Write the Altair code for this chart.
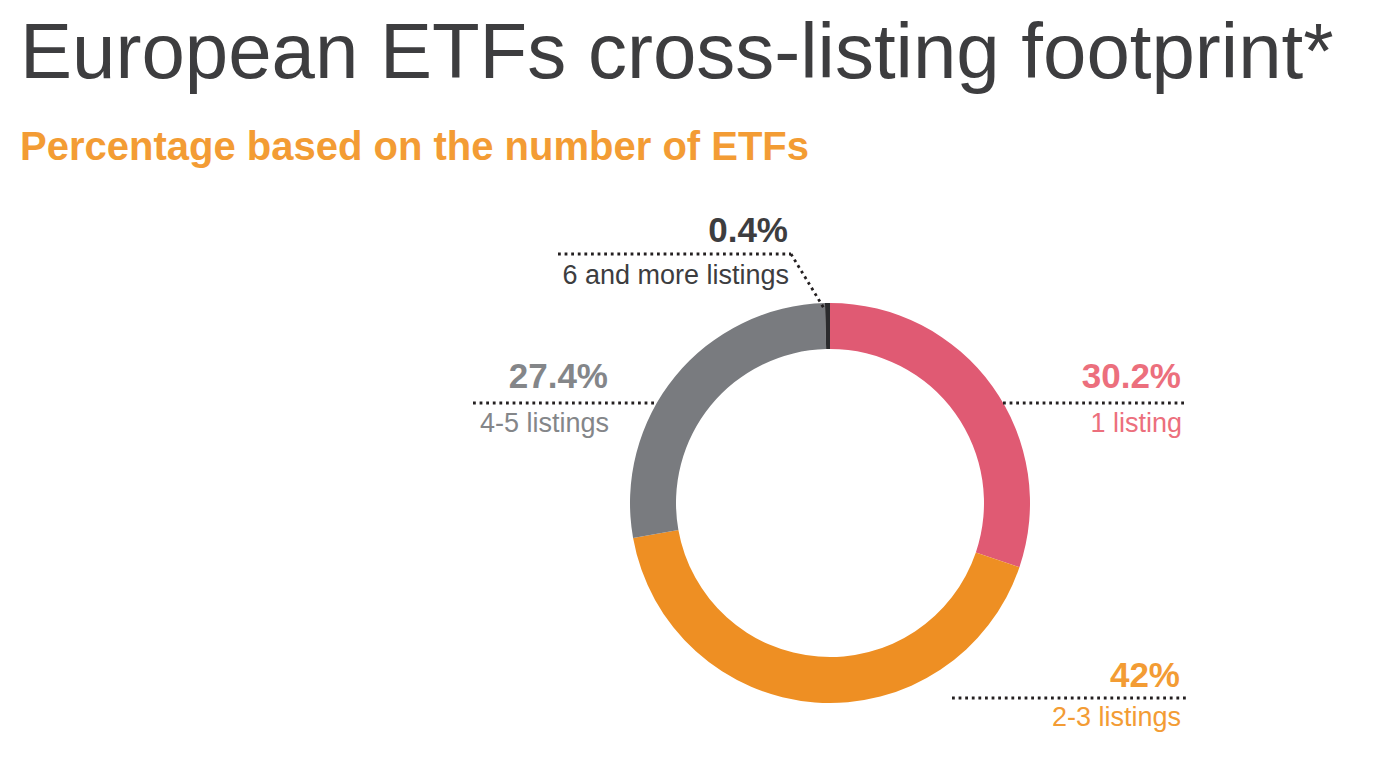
import altair as alt
import pandas as pd

categories = ["1 listing", "2-3 listings", "4-5 listings", "6 and more listings"]
shares = [30.2, 42.0, 27.4, 0.4]
pct_labels = ["30.2%", "42%", "27.4%", "0.4%"]
slice_colors = ["#e05a73", "#ee8f23", "#797b7f", "#2b2b2d"]
label_colors = ["#ec6f7d", "#f39c34", "#848689", "#3d3d3f"]

df = pd.DataFrame({"cat": categories, "share": shares, "pct": pct_labels,
                   "order": list(range(len(categories)))})

W, H = 1359, 753
CX, CY = 822, 495
R_OUT, R_IN = 200, 154
FONT = "Liberation Sans"
DOT = "#231f20"

donut = alt.Chart(df).mark_arc(outerRadius=R_OUT, innerRadius=R_IN).encode(
    theta=alt.Theta("share:Q", stack=True),
    order=alt.Order("order:Q"),
    color=alt.Color("cat:N", scale=alt.Scale(domain=categories, range=slice_colors), legend=None),
    x=alt.value(CX), y=alt.value(CY),
)

# label positions (right edge x, baseline of pct, baseline of name, leader y, leader x1, x2)
pos = {
    "1 listing": (1173, 380, 424, 395, 995, 1178),
    "2-3 listings": (1172, 679, 718, 690, 944, 1178),
    "4-5 listings": (600, 380, 424, 395, 465, 647),
    "6 and more listings": (780, 234, 276, 246, 550, 783),
}

layers = [donut]
for i, c in enumerate(categories):
    rx, yp, yn, ly, lx1, lx2 = pos[c]
    base = alt.Chart(df).transform_filter(alt.datum.cat == c)
    layers.append(base.mark_text(align="right", baseline="alphabetic", font=FONT,
                                 fontSize=35, fontWeight="bold", color=label_colors[i]).encode(
        text="pct:N", x=alt.value(rx), y=alt.value(yp)))
    layers.append(base.mark_text(align="right", baseline="alphabetic", font=FONT,
                                 fontSize=27, color=label_colors[i]).encode(
        text="cat:N", x=alt.value(rx + 1), y=alt.value(yn)))
    layers.append(base.mark_rule(color=DOT, strokeWidth=2.8, strokeDash=[2.8, 3.8]).encode(
        x=alt.value(lx1), x2=alt.value(lx2), y=alt.value(ly), y2=alt.value(ly)))

# diagonal leader for the small slice
layers.append(alt.Chart(df).transform_filter(alt.datum.cat == categories[3]).mark_rule(
    color=DOT, strokeWidth=2.8, strokeDash=[2.8, 3.8]).encode(
    x=alt.value(783), y=alt.value(246), x2=alt.value(817), y2=alt.value(302)))

title_df = pd.DataFrame({"t": ["European ETFs cross-listing footprint*"]})
sub_df = pd.DataFrame({"t": ["Percentage based on the number of ETFs"]})
layers.append(alt.Chart(title_df).mark_text(align="left", baseline="alphabetic", font=FONT,
                                            fontSize=78, color="#3d3d3f").encode(
    text="t:N", x=alt.value(12), y=alt.value(70)))
layers.append(alt.Chart(sub_df).mark_text(align="left", baseline="alphabetic", font=FONT,
                                          fontSize=40, fontWeight="bold", color="#f39c34").encode(
    text="t:N", x=alt.value(12), y=alt.value(152)))

chart = alt.layer(*layers).properties(
    width=W, height=H, autosize=alt.AutoSizeParams(type="none"), padding=0,
    background="white"
).configure_view(stroke=None, strokeWidth=0)

chart.save("out.html", embed_options={"renderer": "svg", "actions": False})
